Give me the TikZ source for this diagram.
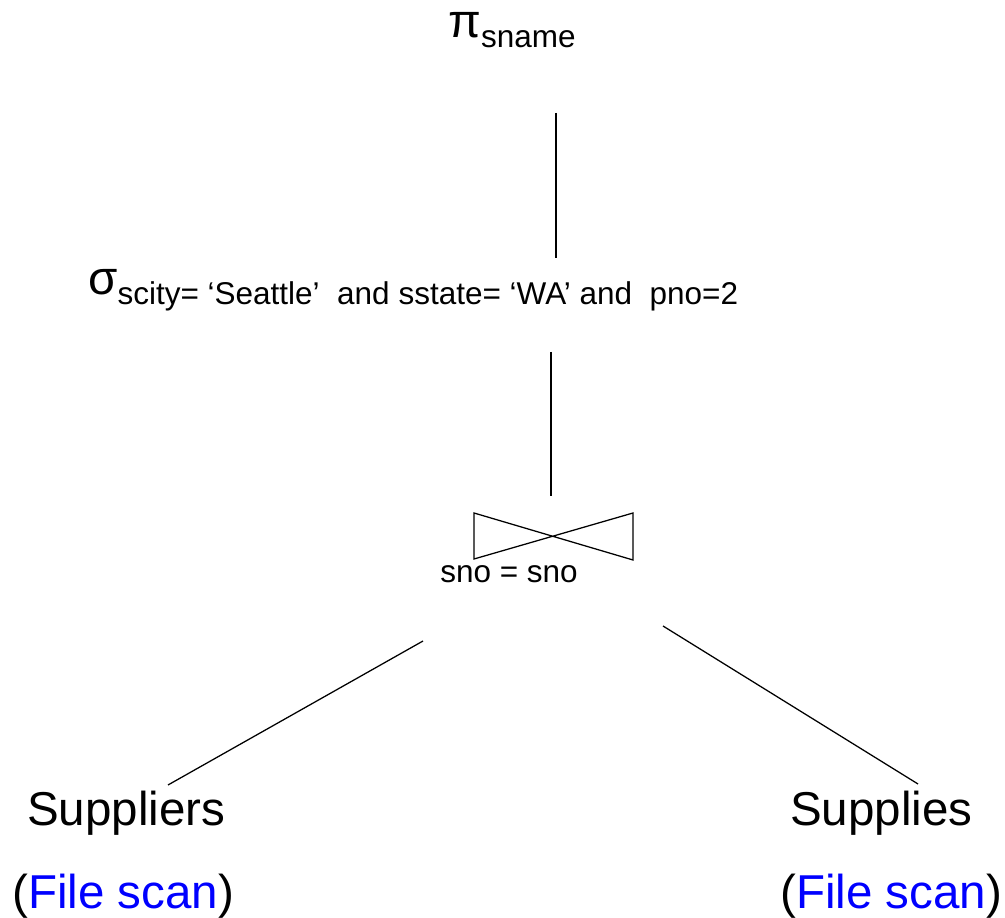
\documentclass[tikz,border=0pt]{standalone}
\usepackage{fontspec}
\setmainfont{Liberation Sans}
\usepackage{xcolor}
\usepackage{tikz}
\usetikzlibrary{positioning,calc}
\definecolor{scanBlue}{RGB}{0,0,255}
\newcommand{\mainsize}{\fontsize{33.8}{40}\selectfont}
\newcommand{\subsize}{\fontsize{22.4}{26}\selectfont}
\newcommand{\opsub}[1]{\raisebox{-6.9pt}{\subsize #1}}
\tikzset{
    label text/.style={anchor=base west, inner sep=0pt, font=\mainsize},
    tree edge/.style={draw=black, line width=0.9pt},
}

\begin{document}
\begin{tikzpicture}[scale=1.0]
    \useasboundingbox (0,0) rectangle (25.125,22.925);

    \node[label text] (project) at (11.2,21.975) {π\opsub{sname}};
    \node[label text] (select) at (2.2,15.55)
        {σ\opsub{scity= ‘Seattle’\ \ and sstate= ‘WA’ and\ \ pno=2}};

    % join symbol
    \coordinate (join) at (13.8375,9.5125);
    \draw[tree edge] (11.85,10.1) -- (15.825,8.925) -- (15.825,10.1) -- (11.85,8.95) -- cycle;
    \node[anchor=base west, inner sep=0pt, font=\subsize] (cond) at (11.0,8.35) {sno = sno};

    \node[label text] (suppliers) at (0.675,2.3) {Suppliers};
    \node[label text] (supplies) at (19.75,2.3) {Supplies};
    \node[label text] (scanA) at (0.3,0.225) {(\textcolor{scanBlue}{File scan})};
    \node[label text] (scanB) at (19.5,0.225) {(\textcolor{scanBlue}{File scan})};

    \coordinate (projectEnd) at (13.9,20.1);
    \coordinate (selectTop) at (13.9,16.475);
    \coordinate (selectEnd) at (13.775,14.125);
    \coordinate (joinTop) at (13.775,10.525);
    \coordinate (joinLeft) at (10.575,6.9);
    \coordinate (joinRight) at (16.575,7.275);
    \coordinate (suppliersTop) at (4.2,3.3);
    \coordinate (suppliesTop) at (22.95,3.325);

    \draw[tree edge] (projectEnd) -- (selectTop);
    \draw[tree edge] (selectEnd) -- (joinTop);
    \draw[tree edge] (joinLeft) -- (suppliersTop);
    \draw[tree edge] (joinRight) -- (suppliesTop);
\end{tikzpicture}
\end{document}
